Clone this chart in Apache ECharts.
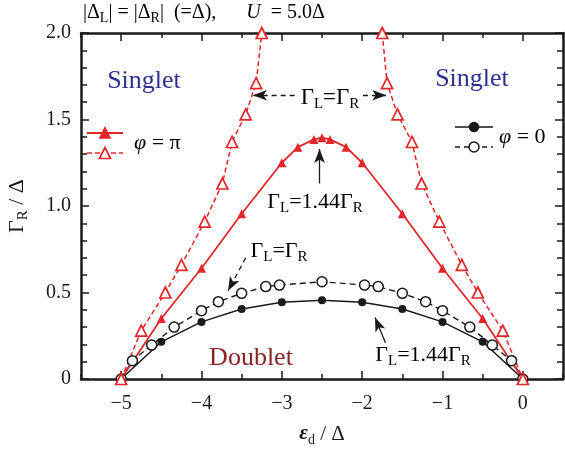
<!DOCTYPE html>
<html><head><meta charset="utf-8">
<script src="https://cdn.jsdelivr.net/npm/echarts@6/dist/echarts.min.js"></script>
<style>html,body{margin:0;padding:0;background:#fff}#c{width:565px;height:453px}</style>
</head><body><div id="c"></div>
<script>
// ---- data ----
const xMajorTicks = [-5, -4, -3, -2, -1, 0];
const xMinorTicks = [-5.5, -4.5, -3.5, -2.5, -1.5, -0.5, 0.5];
const yTickLabels = ['0', '0.5', '1.0', '1.5', '2.0'];

// phi = pi, Gamma_L = Gamma_R (dashed, open triangles) - two branches
const piEqLeftX  = [-5, -4.75, -4.45, -4.25, -3.96, -3.74, -3.62, -3.45, -3.32, -3.25];
const piEqLeftY  = [0, 0.28, 0.50, 0.66, 0.91, 1.13, 1.37, 1.53, 1.71, 2.0];
const piEqRightX = [-1.75, -1.69, -1.56, -1.38, -1.26, -1.04, -0.76, -0.56, -0.25, 0];
const piEqRightY = [2.0, 1.71, 1.53, 1.37, 1.13, 0.91, 0.66, 0.50, 0.28, 0];

// phi = pi, Gamma_L = 1.44 Gamma_R (solid, filled triangles)
const piAsymX = [-5, -4.5, -4, -3.5, -3, -2.8, -2.6, -2.5, -2.4, -2.2, -2, -1.5, -1, -0.5, 0];
const piAsymY = [0, 0.35, 0.64, 0.955, 1.25, 1.34, 1.385, 1.395, 1.385, 1.34, 1.25, 0.955, 0.64, 0.35, 0];

// phi = 0, Gamma_L = 1.44 Gamma_R (solid, filled circles)
const zeroAsymX = [-5, -4.5, -4, -3.5, -3, -2.5, -2, -1.5, -1, -0.5, 0];
const zeroAsymY = [0, 0.215, 0.33, 0.405, 0.443, 0.455, 0.443, 0.405, 0.33, 0.215, 0];

// phi = 0, Gamma_L = Gamma_R (dashed, open circles)
const zeroEqX = [-5, -4.86, -4.62, -4.34, -4.0, -3.79, -3.5, -3.2, -3.03, -2.5, -1.97, -1.8, -1.5, -1.21, -1.0, -0.66, -0.38, -0.14, 0];
const zeroEqY = [0, 0.106, 0.196, 0.30, 0.395, 0.447, 0.495, 0.534, 0.543, 0.562, 0.543, 0.534, 0.495, 0.447, 0.395, 0.30, 0.196, 0.106, 0];

// ---- styling ----
const RED = '#e4262b';
const INK = '#1a1a1a';
const SERIF = "'Liberation Serif','DejaVu Serif',serif";
const pair = (xs, ys) => xs.map((x, i) => [x, ys[i]]);

const subRich = (size, sub, lh) => ({
  n: {fontFamily: SERIF, fontSize: size, lineHeight: lh, color: INK},
  i: {fontFamily: SERIF, fontSize: size, lineHeight: lh, color: INK, fontStyle: 'italic'},
  e: {fontFamily: SERIF, fontSize: size, lineHeight: lh, color: INK, fontStyle: 'italic', fontWeight: 'bold'},
  s: {fontFamily: SERIF, fontSize: sub, lineHeight: Math.round(sub * 0.9), verticalAlign: 'bottom', color: INK}
});

const axisLineStyle = {show: true, onZero: false, lineStyle: {color: INK, width: 2.5}};
const tickStyle = {color: INK, width: 1.5};

function xAx(pos, ticks, len, withLabel) {
  const a = {
    type: 'value', position: pos, min: -5.5, max: 0.5, interval: 0.5,
    axisLine: withLabel !== null ? axisLineStyle : {show: false, onZero: false},
    axisTick: {show: true, inside: true, length: len, customValues: ticks, lineStyle: tickStyle},
    axisLabel: {show: false},
    splitLine: {show: false}
  };
  if (withLabel) {
    a.axisLabel = {show: true, customValues: xMajorTicks,
      formatter: v => (v < 0 ? '\u2212' + Math.abs(v) : String(v)),
      fontFamily: SERIF, fontSize: 20, color: INK, margin: 15};
    a.name = '{e|ε}{s|d}{n| / Δ}';
    a.nameLocation = 'middle';
    a.nameGap = 42;
    a.nameTextStyle = {rich: subRich(21, 14, 26)};
  }
  return a;
}
function yAx(pos, withLabel) {
  const a = {
    type: 'value', position: pos, min: 0, max: 2, interval: 0.5,
    axisLine: axisLineStyle,
    axisTick: {show: true, inside: true, length: 8, lineStyle: tickStyle},
    minorTick: {show: true, splitNumber: 5, length: 6, lineStyle: tickStyle},
    axisLabel: {show: false},
    splitLine: {show: false}
  };
  if (withLabel) {
    a.axisLabel = {show: true, formatter: (v) => yTickLabels[Math.round(v * 2)],
      fontFamily: SERIF, fontSize: 20, color: INK, margin: 10};
    a.name = '{n|Γ}{s|R}{n| / Δ}';
    a.nameLocation = 'middle';
    a.nameGap = 50;
    a.nameTextStyle = {rich: subRich(22, 15, 28)};
  }
  return a;
}

const arrow = (from, to, dashed) => [
  {coord: from, symbol: 'none', lineStyle: {color: INK, width: 1.3, type: dashed ? [5, 4] : 'solid'}},
  {coord: to, symbol: 'arrow', symbolSize: [8, 14]}
];

const chart = echarts.init(document.getElementById('c'), null, {renderer: 'canvas'});
const option = {
  animation: false,
  backgroundColor: '#fff',
  grid: {left: 81, right: 2, top: 33, bottom: 74, containLabel: false, outerBoundsMode: 'none'},
  xAxis: [
    xAx('bottom', xMajorTicks, 8, true),
    xAx('bottom', xMinorTicks, 5, null),
    xAx('top', xMajorTicks, 8, false),
    xAx('top', xMinorTicks, 5, null)
  ],
  yAxis: [yAx('left', true), yAx('right', false)],
  series: [
    {
      type: 'line', name: 'phi0 asym', data: pair(zeroAsymX, zeroAsymY),
      symbol: 'circle', symbolSize: 8,
      lineStyle: {color: INK, width: 1.5}, itemStyle: {color: INK},
      markLine: {
        silent: true, label: {show: false}, animation: false,
        data: [
          arrow([-2.84, 1.64], [-3.36, 1.64], true),
          arrow([-1.99, 1.64], [-1.70, 1.64], true),
          arrow([-2.53, 1.13], [-2.53, 1.33], false),
          arrow([-3.45, 0.70], [-3.67, 0.51], true),
          arrow([-1.71, 0.21], [-1.84, 0.355], false)
        ]
      }
    },
    {
      type: 'line', name: 'phi0 eq', data: pair(zeroEqX, zeroEqY),
      symbol: 'circle', symbolSize: 10,
      lineStyle: {color: INK, width: 1.4, type: [6, 4]},
      itemStyle: {color: '#fff', borderColor: INK, borderWidth: 1.5}
    },
    {
      type: 'line', name: 'pi asym', data: pair(piAsymX, piAsymY),
      symbol: 'triangle', symbolSize: 9,
      lineStyle: {color: RED, width: 1.8}, itemStyle: {color: RED}
    },
    {
      type: 'line', name: 'pi eq L', data: pair(piEqLeftX, piEqLeftY),
      symbol: 'triangle', symbolSize: 11, clip: false,
      lineStyle: {color: RED, width: 1.5, type: [5, 3]},
      itemStyle: {color: '#fff', borderColor: RED, borderWidth: 1.7}
    },
    {
      type: 'line', name: 'pi eq R', data: pair(piEqRightX, piEqRightY),
      symbol: 'triangle', symbolSize: 11, clip: false,
      lineStyle: {color: RED, width: 1.5, type: [5, 3]},
      itemStyle: {color: '#fff', borderColor: RED, borderWidth: 1.7}
    }
  ]
};
chart.setOption(option);

// ---- annotations & legends (graphic layer) ----
const annRich = subRich(22, 15, 28);
function txt(x, y, text, rich, align) {
  return {type: 'text', x: x, y: y, silent: true, z: 100,
    style: {text: text, rich: rich, align: align || 'center', verticalAlign: 'middle'}};
}
function plain(x, y, text, color, size) {
  return {type: 'text', x: x, y: y, silent: true, z: 100,
    style: {text: text, fill: color, font: size + 'px ' + SERIF, align: 'center', verticalAlign: 'middle'}};
}
function tri(cx, cy, s, filled, color) {
  const h = s / 2;
  return {type: 'polygon', z: 101, silent: true,
    shape: {points: [[cx, cy - h], [cx + h, cy + h], [cx - h, cy + h]]},
    style: {fill: filled ? color : '#fff', stroke: color, lineWidth: 1.7}};
}
function circ(cx, cy, r, filled) {
  return {type: 'circle', z: 101, silent: true, shape: {cx: cx, cy: cy, r: r},
    style: {fill: filled ? INK : '#fff', stroke: INK, lineWidth: 1.5}};
}
function seg(x1, x2, y, color, dash, w) {
  return {type: 'line', z: 100, silent: true, shape: {x1: x1, y1: y, x2: x2, y2: y},
    style: {stroke: color, lineWidth: w, lineDash: dash || null}};
}

const titleRich = {
  n: {fontFamily: SERIF, fontSize: 20, lineHeight: 24, color: INK},
  i: {fontFamily: SERIF, fontSize: 20, lineHeight: 24, color: INK, fontStyle: 'italic'},
  s: {fontFamily: SERIF, fontSize: 14, lineHeight: 12, verticalAlign: 'bottom', color: INK}
};

chart.setOption({
  graphic: [
    txt(83, 13, '{n||Δ}{s|L}{n|| = |Δ}{s|R}{n||  (=Δ),      }{i|U}{n|  = 5.0Δ}', titleRich, 'left'),
    plain(144, 81, 'Singlet', '#2e3192', 26),
    plain(472, 79, 'Singlet', '#2e3192', 26),
    plain(251, 358, 'Doublet', '#8b2525', 26),
    txt(330, 98, '{n|Γ}{s|L}{n|=Γ}{s|R}', subRich(23, 15, 28)),
    txt(315, 202, '{n|Γ}{s|L}{n|=1.44Γ}{s|R}', annRich),
    txt(279, 251, '{n|Γ}{s|L}{n|=Γ}{s|R}', annRich),
    txt(423, 355, '{n|Γ}{s|L}{n|=1.44Γ}{s|R}', annRich),
    // left legend (phi = pi)
    seg(87, 123, 133, RED, null, 1.8),
    tri(105, 133, 10, true, RED),
    seg(87, 123, 153, RED, [5, 3], 1.5),
    tri(105, 153, 11, false, RED),
    txt(134, 143, '{i|φ}{n| = π}', subRich(22, 15, 28), 'left'),
    // right legend (phi = 0)
    seg(455, 493, 127, INK, null, 1.5),
    circ(474, 127, 4.5, true),
    seg(455, 493, 147, INK, [5, 4], 1.4),
    circ(474, 147, 5, false),
    txt(499, 137, '{i|φ}{n| = 0}', subRich(22, 15, 28), 'left')
  ]
});
</script>
</body></html>
